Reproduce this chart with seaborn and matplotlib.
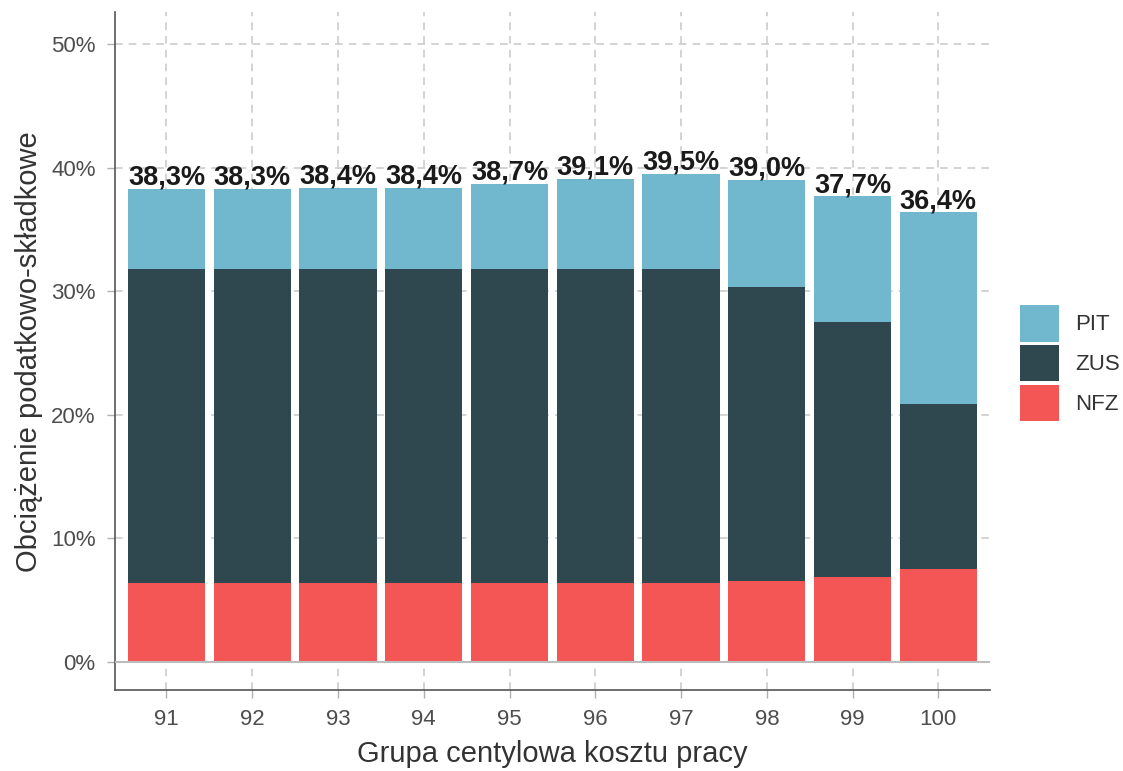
import numpy as np
import pandas as pd
import matplotlib.pyplot as plt
import seaborn as sns
from matplotlib.patches import Patch

# values (percent of labour cost)
groups = ['91', '92', '93', '94', '95', '96', '97', '98', '99', '100']
nfz = [6.4, 6.4, 6.4, 6.4, 6.4, 6.4, 6.4, 6.55, 6.85, 7.5]
zus = [25.4, 25.4, 25.4, 25.4, 25.4, 25.4, 25.4, 23.85, 20.65, 13.4]
pit = [6.5, 6.5, 6.6, 6.6, 6.9, 7.3, 7.7, 8.6, 10.2, 15.5]
totals = [38.3, 38.3, 38.4, 38.4, 38.7, 39.1, 39.5, 39.0, 37.7, 36.4]

colors = {'PIT': '#71b8cf', 'ZUS': '#2f4850', 'NFZ': '#f45555'}

df = pd.DataFrame({'grupa': groups, 'NFZ': nfz, 'ZUS': zus, 'PIT': pit})
df['base_zus'] = df['NFZ']
df['base_pit'] = df['NFZ'] + df['ZUS']

sns.set_style('white')
plt.rcParams['font.family'] = ['Liberation Sans', 'DejaVu Sans']

fig = plt.figure(figsize=(11.23, 7.71), dpi=100)
ax = fig.add_axes([0.1024, 0.105, 0.779, 0.879])

# dashed grid behind the bars
for y in range(0, 51, 10):
    ax.axhline(y, color='#c8c8c8', lw=1.1, ls=(0, (5, 4)), zorder=0)
for i in range(len(groups)):
    ax.axvline(i, color='#c8c8c8', lw=1.1, ls=(0, (5, 4)), zorder=0)

sns.barplot(data=df, x='grupa', y='NFZ', order=groups, color=colors['NFZ'],
            width=0.9, ax=ax, saturation=1, linewidth=0, zorder=2)
sns.barplot(data=df, x='grupa', y='ZUS', order=groups, color=colors['ZUS'],
            width=0.9, ax=ax, saturation=1, linewidth=0, bottom=df['base_zus'], zorder=2)
sns.barplot(data=df, x='grupa', y='PIT', order=groups, color=colors['PIT'],
            width=0.9, ax=ax, saturation=1, linewidth=0, bottom=df['base_pit'], zorder=2)

ax.axhline(0, color='#bdbdbd', lw=1.5, zorder=3)

for i, t in enumerate(totals):
    ax.text(i, t + 0.35, f'{t:.1f}'.replace('.', ',') + '%', ha='center',
            va='baseline', fontsize=19.5, fontweight='bold', color='#1a1a1a', zorder=4)

ax.set_xlim(-0.6, len(groups) - 0.4)
ax.set_ylim(-2.27, 52.6)
ax.set_yticks(range(0, 51, 10))
ax.set_yticklabels([f'{v}%' for v in range(0, 51, 10)])

ax.set_xlabel('Grupa centylowa kosztu pracy', fontsize=21, color='#333333', labelpad=7)
ax.set_ylabel('Obciążenie podatkowo-składkowe', fontsize=21, color='#333333', labelpad=6)
ax.tick_params(axis='y', pad=8)
ax.tick_params(axis='x', pad=8)
ax.tick_params(axis='both', labelsize=16, labelcolor='#4d4d4d', color='#b0b0b0',
               length=6, width=1, left=True, bottom=True)

for s in ['top', 'right']:
    ax.spines[s].set_visible(False)
for s in ['left', 'bottom']:
    ax.spines[s].set_color('#555555')
    ax.spines[s].set_linewidth(1.2)

handles = [Patch(facecolor=colors[k], edgecolor='none', label=k) for k in ['PIT', 'ZUS', 'NFZ']]
fig.legend(handles=handles, loc='center left', bbox_to_anchor=(0.908, 0.529),
           frameon=False, fontsize=16, handlelength=1.75, handleheight=2.15,
           labelspacing=0.15, handletextpad=0.75, borderpad=0, borderaxespad=0,
           labelcolor='#333333')

fig.savefig('out.png', dpi=100)
